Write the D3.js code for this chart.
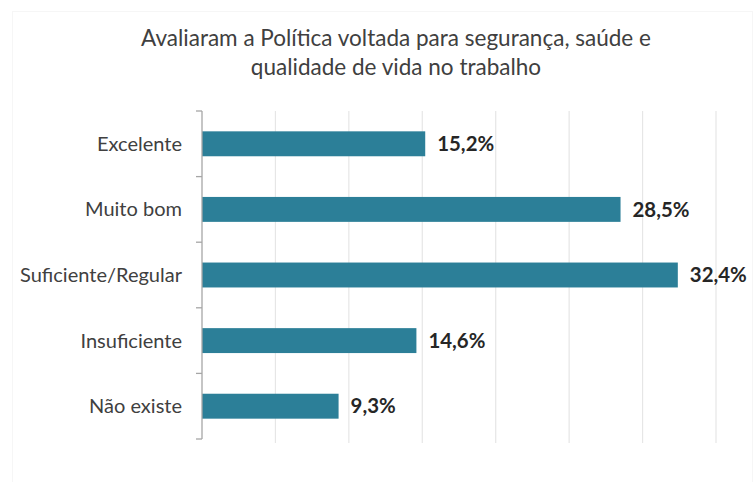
<!DOCTYPE html>
<html>
<head>
<meta charset="utf-8">
<script src="https://cdn.jsdelivr.net/npm/d3@7"></script>
<style>
  html, body { margin: 0; padding: 0; background: #fff; }
  svg { display: block; }
</style>
</head>
<body>
<svg id="chart" width="754" height="482"></svg>
<script>
// Rating categories and their share of responses (%)
const categories = ["Excelente", "Muito bom", "Suficiente/Regular", "Insuficiente", "Não existe"];
const values = [15.2, 28.5, 32.4, 14.6, 9.3];
const gridTicks = [5, 10, 15, 20, 25, 30, 35];
const titleLines = ["Avaliaram a Política voltada para segurança, saúde e", "qualidade de vida no trabalho"];

const FONT = "Lato, 'Open Sans', sans-serif";
const svg = d3.select("#chart");

// faint outer frame
svg.append("rect")
  .attr("x", 12.5).attr("y", 11.5).attr("width", 740).attr("height", 480)
  .attr("fill", "#fff").attr("stroke", "#f6f6f6");

const margin = { left: 202, right: 38, top: 111, bottom: 43 };
const W = 754, H = 482;

const x = d3.scaleLinear().domain([0, 35]).range([margin.left, W - margin.right]);
const y = d3.scaleBand().domain(categories).range([margin.top, H - margin.bottom]).paddingInner(0.62).paddingOuter(0.31);

// fit a font size so that a given string spans a target width
function fitSize(text, weight, target) {
  const t = svg.append("text").attr("font-family", FONT).attr("font-weight", weight)
    .attr("font-size", 100).text(text);
  const w = t.node().getComputedTextLength();
  t.remove();
  return 100 * target / w;
}

// vertical gridlines
svg.append("g")
  .selectAll("line")
  .data(gridTicks)
  .join("line")
  .attr("x1", d => x(d)).attr("x2", d => x(d))
  .attr("y1", margin.top).attr("y2", H - margin.bottom + 4)
  .attr("stroke", "#e6e6e6").attr("stroke-width", 1.2);

// bars
svg.append("g")
  .selectAll("rect")
  .data(categories)
  .join("rect")
  .attr("x", x(0))
  .attr("y", d => y(d))
  .attr("width", (d, i) => x(values[i]) - x(0))
  .attr("height", y.bandwidth())
  .attr("fill", "#2c7f98");

// category axis with boundary tick marks
const step = y.step();
const yAxisG = svg.append("g");
yAxisG.append("line")
  .attr("x1", margin.left).attr("x2", margin.left)
  .attr("y1", margin.top).attr("y2", H - margin.bottom)
  .attr("stroke", "#a6a6a6").attr("stroke-width", 1.3);
const boundaries = d3.range(categories.length + 1).map(i => margin.top + i * step);
yAxisG.selectAll("line.tk")
  .data(boundaries)
  .join("line")
  .attr("class", "tk")
  .attr("x1", margin.left - 6).attr("x2", margin.left)
  .attr("y1", d => d).attr("y2", d => d)
  .attr("stroke", "#a6a6a6").attr("stroke-width", 1.3);

// category labels
const catSize = fitSize("Suficiente/Regular", 400, 162);
svg.append("g")
  .selectAll("text")
  .data(categories)
  .join("text")
  .attr("x", 182)
  .attr("y", d => y(d) + y.bandwidth() / 2)
  .attr("dy", "0.35em")
  .attr("text-anchor", "end")
  .attr("font-family", FONT)
  .attr("font-size", catSize)
  .attr("fill", "#404040")
  .text(d => d);

// value labels
const fmt = v => v.toFixed(1).replace(".", ",") + "%";
const valSize = fitSize("32,4%", 700, 57);
svg.append("g")
  .selectAll("text")
  .data(categories)
  .join("text")
  .attr("x", (d, i) => x(values[i]) + 12)
  .attr("y", d => y(d) + y.bandwidth() / 2)
  .attr("dy", "0.35em")
  .attr("font-family", FONT)
  .attr("font-weight", 700)
  .attr("font-size", valSize)
  .attr("fill", "#262626")
  .text((d, i) => fmt(values[i]));

// title
const titleSize = fitSize(titleLines[0], 400, 510);
svg.append("g")
  .selectAll("text")
  .data(titleLines)
  .join("text")
  .attr("x", 396)
  .attr("y", (d, i) => 46 + i * 29)
  .attr("text-anchor", "middle")
  .attr("font-family", FONT)
  .attr("font-size", titleSize)
  .attr("fill", "#404040")
  .text(d => d);
</script>
</body>
</html>
